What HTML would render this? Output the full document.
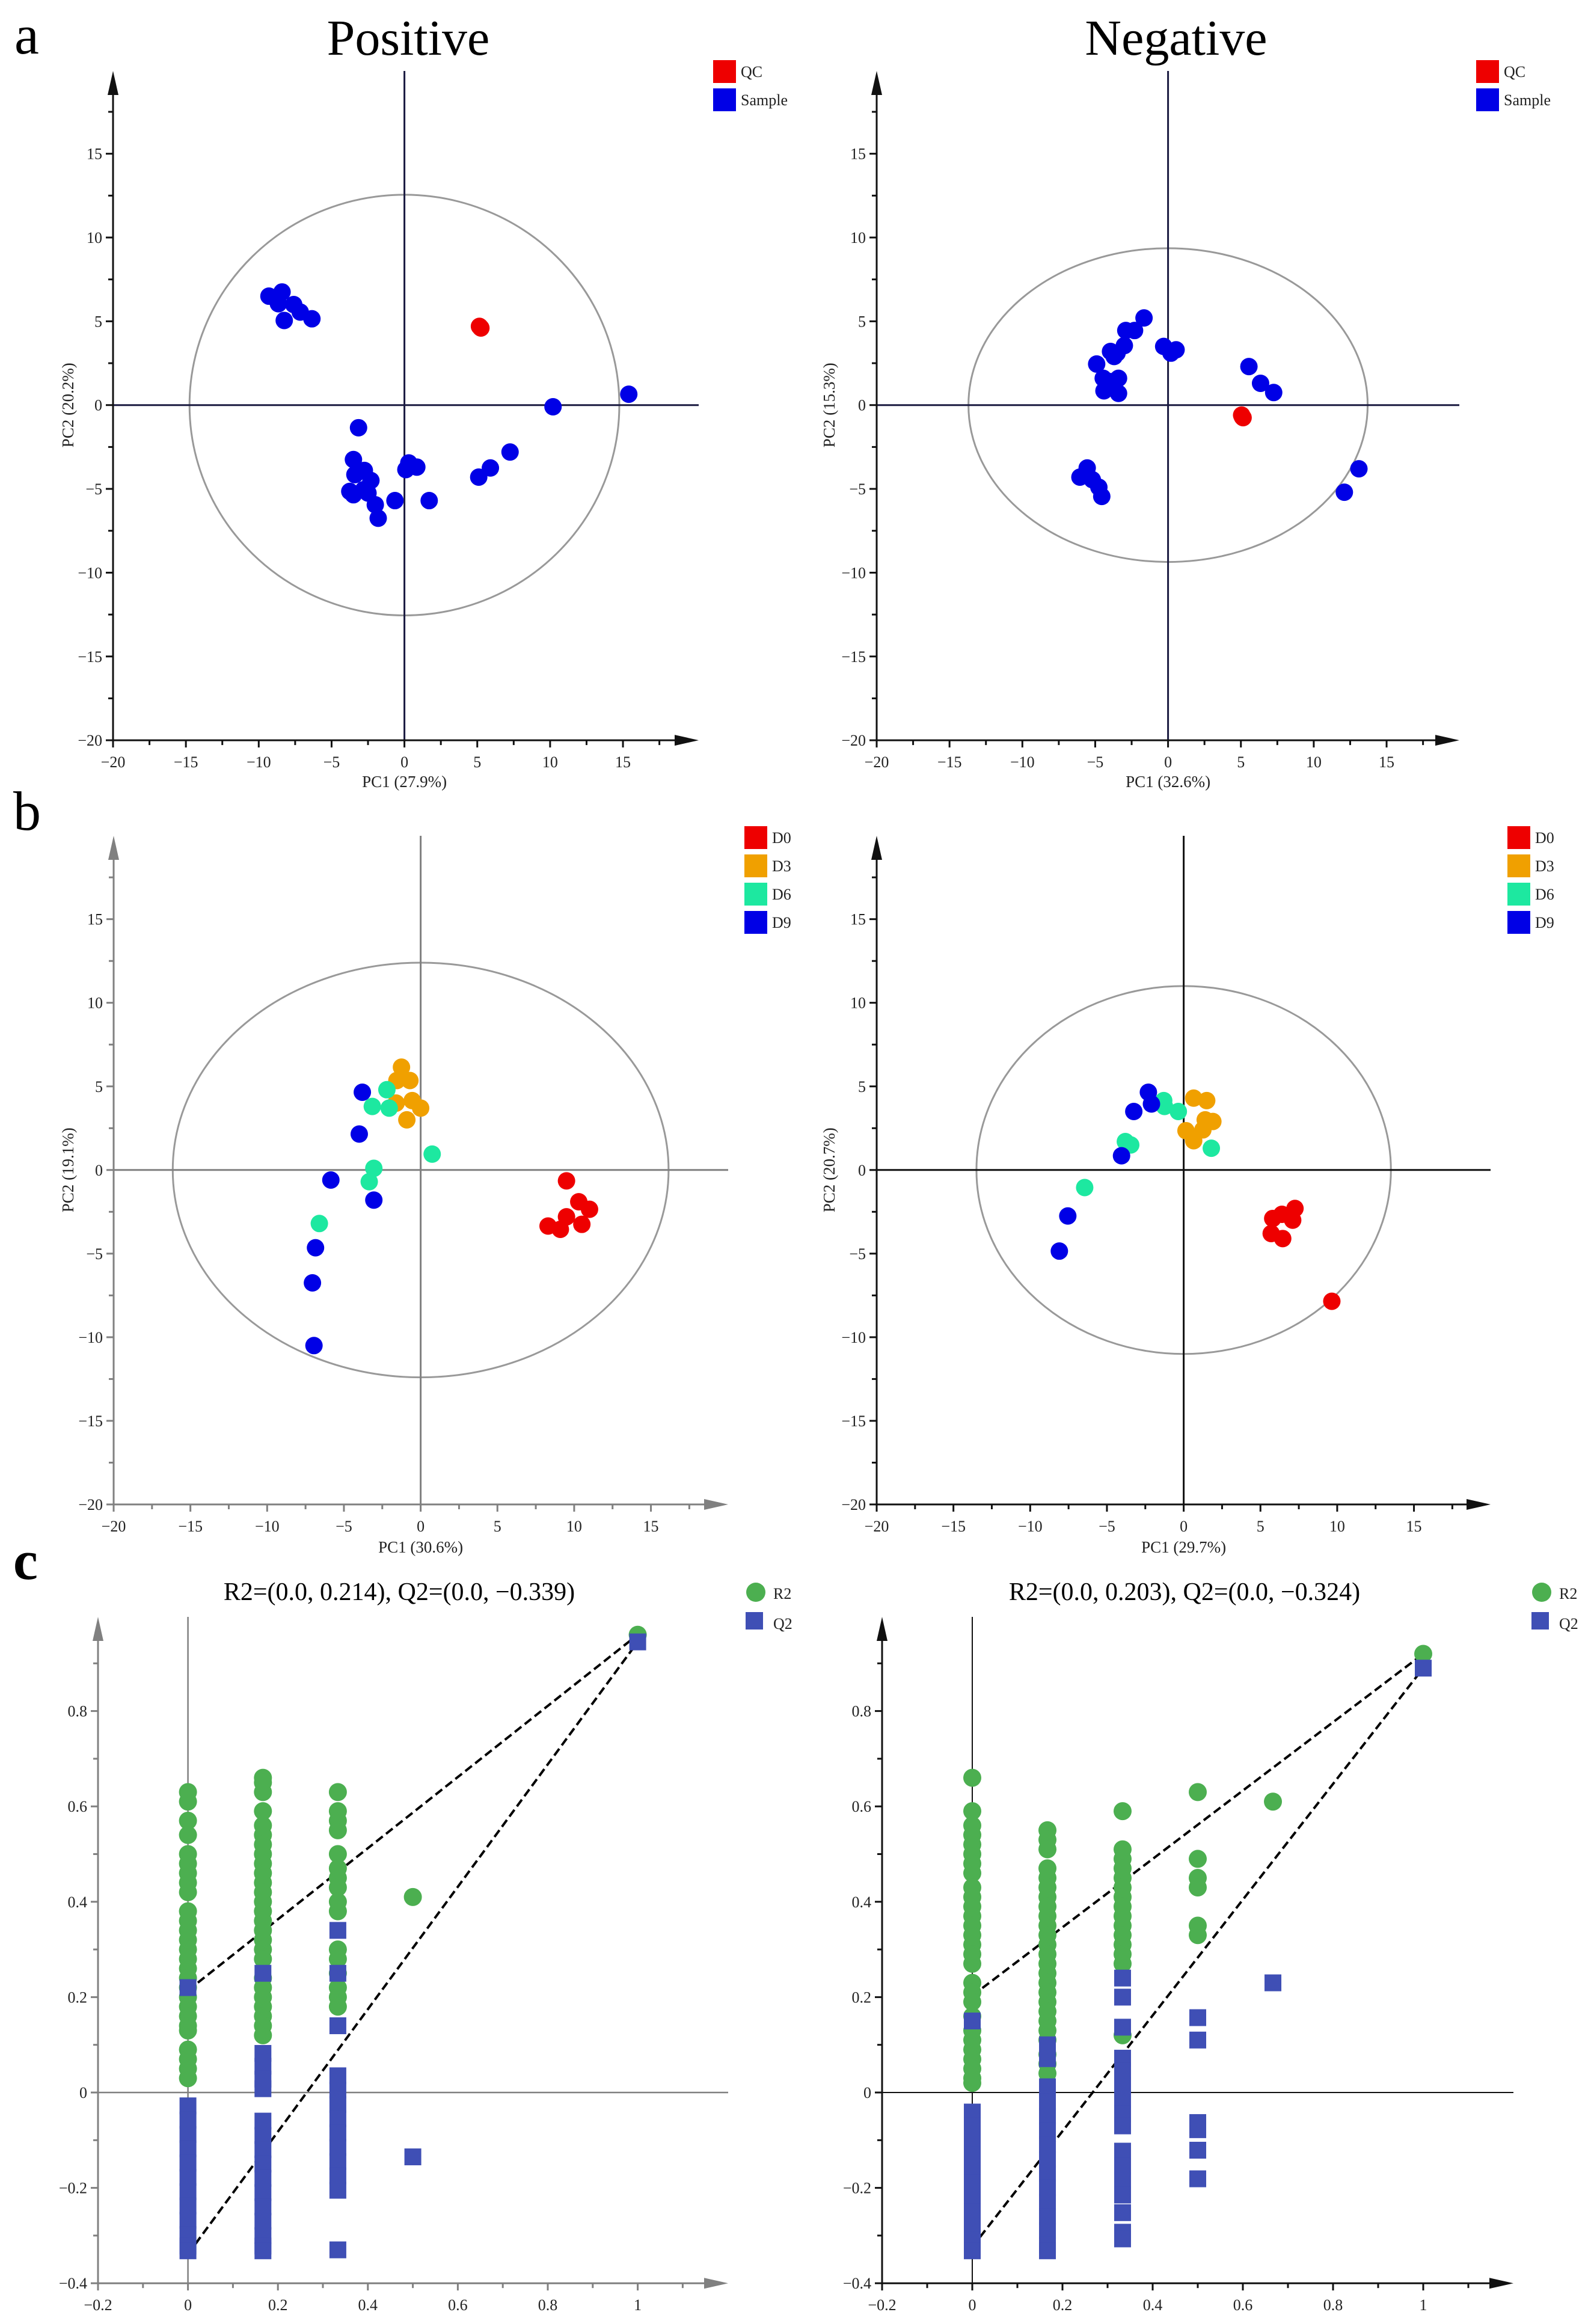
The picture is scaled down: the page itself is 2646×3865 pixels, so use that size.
<!DOCTYPE html>
<html><head><meta charset="utf-8"><style>
html,body{margin:0;padding:0;background:#fff}
svg{display:block;font-family:"Liberation Serif",serif}
</style></head><body>
<svg id="fig" width="2646" height="3865" viewBox="0 0 2646 3865" xmlns="http://www.w3.org/2000/svg">
<text x="24" y="89" font-size="92">a</text>
<text x="679" y="91" font-size="84" text-anchor="middle">Positive</text>
<text x="1956" y="91" font-size="84" text-anchor="middle">Negative</text>
<text x="22" y="1380" font-size="92">b</text>
<text x="22" y="2626" font-size="92" font-weight="bold">c</text>
<text x="664" y="2661" font-size="42" text-anchor="middle">R2=(0.0, 0.214), Q2=(0.0, −0.339)</text>
<text x="1970" y="2661" font-size="42" text-anchor="middle">R2=(0.0, 0.203), Q2=(0.0, −0.324)</text>
</svg>
<script>
// ---- Panel a (QC vs Sample), positive
const aPosSampleX=[-9.3,-8.4,-8.65,-7.6,-8.25,-7.15,-6.35,-3.15,-3.5,-3.4,-2.75,-3.75,-3.5,-2.8,-2.5,-2.3,-2.0,-1.8,-0.65,0.3,0.1,0.85,1.7,5.1,5.9,7.25,10.2,15.4];
const aPosSampleY=[6.5,6.75,6.05,6.0,5.05,5.55,5.15,-1.35,-3.25,-4.15,-3.9,-5.15,-5.35,-5.05,-5.25,-4.5,-5.95,-6.75,-5.7,-3.45,-3.85,-3.7,-5.7,-4.3,-3.75,-2.8,-0.1,0.65];
const aPosQCX=[5.2,5.15,5.25];
const aPosQCY=[4.65,4.7,4.6];
// ---- Panel a, negative
const aNegSampleX=[-1.65,-2.3,-2.9,-3.0,-3.5,-3.95,-3.7,-4.9,-4.45,-3.4,-4.4,-3.4,-3.95,-0.3,0.2,0.55,5.55,6.35,7.25,13.1,12.1,-6.05,-5.55,-5.2,-4.75,-4.55];
const aNegSampleY=[5.2,4.45,4.45,3.55,3.1,3.2,2.9,2.45,1.6,1.6,0.85,0.7,1.4,3.5,3.1,3.3,2.3,1.3,0.75,-3.8,-5.2,-4.3,-3.75,-4.45,-4.9,-5.45];
const aNegQCX=[5.1,5.05,5.15];
const aNegQCY=[-0.7,-0.6,-0.75];
// ---- Panel b (D0..D9), positive
const bPosD0X=[9.5,10.3,11.0,8.3,9.1,9.5,10.5];
const bPosD0Y=[-0.65,-1.9,-2.35,-3.35,-3.55,-2.8,-3.25];
const bPosD3X=[-1.25,-1.55,-0.7,-0.55,0.0,-0.9,-1.6];
const bPosD3Y=[6.15,5.35,5.35,4.15,3.7,3.0,4.0];
const bPosD6X=[-2.2,-3.15,-2.05,0.75,-3.05,-3.35,-6.6];
const bPosD6Y=[4.8,3.8,3.7,0.95,0.1,-0.7,-3.2];
const bPosD9X=[-3.8,-4.0,-5.85,-3.05,-6.85,-7.05,-6.95];
const bPosD9Y=[4.65,2.15,-0.6,-1.8,-4.65,-6.75,-10.5];
// ---- Panel b, negative
const bNegD0X=[7.25,5.8,6.4,7.1,5.7,6.45,9.65];
const bNegD0Y=[-2.3,-2.9,-2.65,-3.0,-3.8,-4.1,-7.85];
const bNegD3X=[0.65,1.5,1.4,1.9,0.15,1.25,0.65];
const bNegD3Y=[4.3,4.15,3.0,2.9,2.35,2.4,1.75];
const bNegD6X=[-1.3,-1.25,-0.35,-3.8,-3.45,1.8,-6.45];
const bNegD6Y=[4.15,3.8,3.5,1.7,1.5,1.3,-1.05];
const bNegD9X=[-2.3,-2.1,-3.25,-4.05,-7.55,-8.1];
const bNegD9Y=[4.65,3.95,3.5,0.85,-2.75,-4.85];
// ---- Panel c (permutation tests), positive: one array per permutation column
const cPosCols=[0,0.1667,0.3333,0.5,1];
const cPosR2=[
 [0.63,0.61,0.57,0.54,0.5,0.48,0.46,0.44,0.42,0.38,0.36,0.34,0.32,0.3,0.28,0.26,0.24,0.22,0.2,0.18,0.16,0.14,0.13,0.09,0.07,0.05,0.03],
 [0.66,0.65,0.63,0.59,0.56,0.54,0.52,0.5,0.48,0.46,0.44,0.42,0.4,0.38,0.36,0.34,0.32,0.3,0.28,0.24,0.22,0.2,0.18,0.16,0.14,0.12],
 [0.63,0.59,0.57,0.55,0.5,0.47,0.45,0.43,0.4,0.38,0.3,0.28,0.25,0.22,0.2,0.18],
 [0.41],
 [0.96]];
const cPosQ2=[
 [0.22,-0.028,-0.058,-0.088,-0.118,-0.148,-0.178,-0.208,-0.238,-0.268,-0.298,-0.322,-0.332],
 [0.25,0.082,0.055,0.028,0.008,-0.06,-0.09,-0.12,-0.15,-0.18,-0.21,-0.24,-0.27,-0.3,-0.322,-0.332],
 [0.34,0.25,0.14,0.035,0.005,-0.025,-0.055,-0.085,-0.115,-0.145,-0.175,-0.205,-0.33],
 [-0.135],
 [0.945]];
const cPosLineR2=[0.214,0.96];
const cPosLineQ2=[-0.339,0.945];
// ---- Panel c, negative
const cNegCols=[0,0.1667,0.3333,0.5,0.6667,1];
const cNegR2=[
 [0.66,0.59,0.56,0.54,0.52,0.5,0.48,0.46,0.43,0.41,0.39,0.37,0.35,0.33,0.31,0.29,0.27,0.23,0.21,0.19,0.16,0.13,0.11,0.09,0.07,0.05,0.03,0.02],
 [0.55,0.53,0.51,0.47,0.45,0.43,0.41,0.39,0.37,0.35,0.33,0.31,0.29,0.27,0.25,0.23,0.21,0.19,0.17,0.15,0.13,0.11,0.08,0.06,0.04],
 [0.59,0.51,0.49,0.47,0.45,0.43,0.41,0.39,0.37,0.35,0.33,0.31,0.29,0.27,0.12],
 [0.63,0.49,0.45,0.43,0.35,0.33],
 [0.61],
 [0.92]];
const cNegQ2=[
 [0.15,-0.041,-0.07,-0.1,-0.13,-0.16,-0.19,-0.22,-0.25,-0.28,-0.31,-0.332],
 [0.1,0.071,0.012,-0.02,-0.05,-0.08,-0.11,-0.14,-0.17,-0.2,-0.23,-0.26,-0.29,-0.32,-0.332],
 [0.24,0.2,0.137,0.072,0.045,0.015,-0.015,-0.045,-0.07,-0.123,-0.155,-0.185,-0.215,-0.252,-0.293,-0.307],
 [0.157,0.11,-0.063,-0.078,-0.121,-0.181],
 [0.23],
 [0.89]];
const cNegLineR2=[0.203,0.92];
const cNegLineQ2=[-0.324,0.89];

const NS='http://www.w3.org/2000/svg';
const svg=document.getElementById('fig');
function mk(tag,attrs,parent){const e=document.createElementNS(NS,tag);for(const k in attrs)e.setAttribute(k,attrs[k]);(parent||svg).appendChild(e);return e;}
function fmt(v){const s=(Math.round(v*10)/10).toString();return v<0?'−'+s.slice(1):s;}
function flatX(cols,vals){const o=[];vals.forEach((a,i)=>a.forEach(()=>o.push(cols[i])));return o;}
function flatY(vals){const o=[];vals.forEach(a=>a.forEach(v=>o.push(v)));return o;}

function panel(c){
  const g=mk('g',{});
  
  
  const sx=v=>c.ox+v*c.kx, sy=v=>c.oy-v*c.ky;
  const L=sx(c.xAxisAt), B=sy(c.yAxisAt);
  if(c.ell){const el=mk('ellipse',{cx:sx(0),cy:sy(0),rx:c.ell[0]*c.kx,ry:c.ell[1]*c.ky,fill:'none',stroke:'#999',"stroke-width":3},g);
    }
  const vz=mk('line',{x1:sx(0),x2:sx(0),y1:c.top,y2:B,stroke:c.cross,"stroke-width":c.crossW},g);
  
  const hz=mk('line',{x1:L,x2:c.right,y1:sy(0),y2:sy(0),stroke:c.cross,"stroke-width":c.crossW},g);
  
  const xa=mk('line',{x1:L,x2:c.right-20,y1:B,y2:B,stroke:c.axis,"stroke-width":3},g);
  
  mk('polygon',{points:`${c.right},${B} ${c.right-40},${B-9} ${c.right-40},${B+9}`,fill:c.axis},g);
  const ya=mk('line',{x1:L,x2:L,y1:B,y2:c.top+20,stroke:c.axis,"stroke-width":3},g);
  
  mk('polygon',{points:`${L},${c.top} ${L-9},${c.top+40} ${L+9},${c.top+40}`,fill:c.axis},g);
  for(let i=0;;i++){const v=c.xAxisAt+i*c.xMinor;const px=sx(v);if(px>c.right-40)break;
    const major=Math.abs(v/c.xMajor-Math.round(v/c.xMajor))<1e-6;
    mk('line',{x1:px,x2:px,y1:B,y2:B+(major?12:8),stroke:c.axis,"stroke-width":3},g);
    if(major){const t=mk('text',{x:px,y:B+45,"font-size":26,"text-anchor":"middle",fill:'#222'},g);t.textContent=fmt(v);
      }}
  for(let i=0;;i++){const v=c.yAxisAt+i*c.yMinor;const py=sy(v);if(py<c.top+40)break;
    const major=Math.abs(v/c.yMajor-Math.round(v/c.yMajor))<1e-6;
    mk('line',{x1:L,x2:L-(major?12:8),y1:py,y2:py,stroke:c.axis,"stroke-width":3},g);
    if(major){const t=mk('text',{x:L-18,y:py+9,"font-size":26,"text-anchor":"end",fill:'#222'},g);t.textContent=fmt(v);
      }}
  if(c.xTitle){const t=mk('text',{x:sx(0),y:c.xTitleY,"font-size":27,"text-anchor":"middle",fill:'#222'},g);t.textContent=c.xTitle;
    
    const u=mk('text',{x:c.yTitleX,y:sy(0),"font-size":27,"text-anchor":"middle",fill:'#222',transform:`rotate(-90 ${c.yTitleX} ${sy(0)})`},g);u.textContent=c.yTitle;
    }
  if(c.lines){for(const ln of c.lines){const d=mk('line',{x1:sx(0),y1:sy(ln[0]),x2:sx(1),y2:sy(ln[1]),stroke:'#000',"stroke-width":4,"stroke-dasharray":"14 7"},g);
    }}
  for(const s of c.series){for(let i=0;i<s.x.length;i++){let e;
      if(s.shape==='sq'){e=mk('rect',{x:sx(s.x[i])-14,y:sy(s.y[i])-14,width:28,height:28,fill:s.color},g);}
      else{e=mk('circle',{cx:sx(s.x[i]),cy:sy(s.y[i]),r:s.r||14.5,fill:s.color},g);}
      
      }}
  c.legend.forEach((s,i)=>{const y=c.legY+i*c.legStep;let m;
    if(s.shape==='circ'){m=mk('circle',{cx:c.legX+17,cy:y+17,r:16,fill:s.color},g);}
    else{m=mk('rect',{x:c.legX,y:y,width:s.w||38,height:s.w||38,fill:s.color},g);}
    
    const t=mk('text',{x:c.legX+46,y:y+28,"font-size":26,fill:'#222'},g);t.textContent=s.label;
    });
}
const RED='#ee0000',BLUE='#0000e6',ORG='#f0a000',TEAL='#1de8a0',GRN='#4caf50',QB='#3f4fb5';
const pcaTicks={xAxisAt:-20,yAxisAt:-20,xMajor:5,xMinor:2.5,yMajor:5,yMinor:2.5};
panel(Object.assign({name:'pca-positive-qc',ox:672.6,kx:24.23,oy:673.7,ky:27.87,top:118,right:1162,axis:'#111',cross:'#1a1a40',crossW:3,
  ell:[14.75,12.55],xTitle:'PC1 (27.9%)',xTitleY:1309,yTitle:'PC2 (20.2%)',yTitleX:122,
  series:[{key:'sample',x:aPosSampleX,y:aPosSampleY,color:BLUE},{key:'qc',x:aPosQCX,y:aPosQCY,color:RED}],
  legend:[{label:'QC',color:RED},{label:'Sample',color:BLUE}],legX:1186,legY:100,legStep:47},pcaTicks));
panel(Object.assign({name:'pca-negative-qc',ox:1942.6,kx:24.23,oy:673.7,ky:27.87,top:118,right:2427,axis:'#111',cross:'#1a1a40',crossW:3,
  ell:[13.7,9.36],xTitle:'PC1 (32.6%)',xTitleY:1309,yTitle:'PC2 (15.3%)',yTitleX:1388,
  series:[{key:'sample',x:aNegSampleX,y:aNegSampleY,color:BLUE},{key:'qc',x:aNegQCX,y:aNegQCY,color:RED}],
  legend:[{label:'QC',color:RED},{label:'Sample',color:BLUE}],legX:2455,legY:100,legStep:47},pcaTicks));
const dLeg=[{label:'D0',color:RED},{label:'D3',color:ORG},{label:'D6',color:TEAL},{label:'D9',color:BLUE}];
panel(Object.assign({name:'pca-positive-groups',ox:699.6,kx:25.53,oy:1945.8,ky:27.81,top:1390,right:1211,axis:'#808080',cross:'#808080',crossW:3,
  ell:[16.15,12.4],xTitle:'PC1 (30.6%)',xTitleY:2582,yTitle:'PC2 (19.1%)',yTitleX:122,
  series:[{key:'d0',x:bPosD0X,y:bPosD0Y,color:RED},{key:'d3',x:bPosD3X,y:bPosD3Y,color:ORG},{key:'d6',x:bPosD6X,y:bPosD6Y,color:TEAL},{key:'d9',x:bPosD9X,y:bPosD9Y,color:BLUE}],
  legend:dLeg,legX:1238,legY:1374,legStep:47},pcaTicks));
panel(Object.assign({name:'pca-negative-groups',ox:1968.6,kx:25.53,oy:1945.8,ky:27.81,top:1390,right:2479,axis:'#111',cross:'#111',crossW:3,
  ell:[13.5,11.0],xTitle:'PC1 (29.7%)',xTitleY:2582,yTitle:'PC2 (20.7%)',yTitleX:1388,
  series:[{key:'d0',x:bNegD0X,y:bNegD0Y,color:RED},{key:'d3',x:bNegD3X,y:bNegD3Y,color:ORG},{key:'d6',x:bNegD6X,y:bNegD6Y,color:TEAL},{key:'d9',x:bNegD9X,y:bNegD9Y,color:BLUE}],
  legend:dLeg,legX:2507,legY:1374,legStep:47},pcaTicks));
const cTicks={xAxisAt:-0.2,yAxisAt:-0.4,xMajor:0.2,xMinor:0.1,yMajor:0.2,yMinor:0.1};
const cLeg=[{label:'R2',color:GRN,shape:'circ'},{label:'Q2',color:QB,w:29}];
panel(Object.assign({name:'permutation-positive',ox:312.6,kx:748,oy:3480,ky:793,top:2689,right:1211,axis:'#808080',cross:'#808080',crossW:2.5,
  lines:[cPosLineR2,cPosLineQ2],
  series:[{key:'r2',x:flatX(cPosCols,cPosR2),y:flatY(cPosR2),color:GRN,r:15},{key:'q2',x:flatX(cPosCols,cPosQ2),y:flatY(cPosQ2),color:QB,shape:'sq'}],
  legend:cLeg,legX:1240,legY:2631,legStep:50},cTicks));
panel(Object.assign({name:'permutation-negative',ox:1617,kx:750,oy:3480,ky:793,top:2689,right:2517,axis:'#111',cross:'#111',crossW:2,
  lines:[cNegLineR2,cNegLineQ2],
  series:[{key:'r2',x:flatX(cNegCols,cNegR2),y:flatY(cNegR2),color:GRN,r:15},{key:'q2',x:flatX(cNegCols,cNegQ2),y:flatY(cNegQ2),color:QB,shape:'sq'}],
  legend:cLeg,legX:2547,legY:2631,legStep:50},cTicks));
</script>
</body></html>
